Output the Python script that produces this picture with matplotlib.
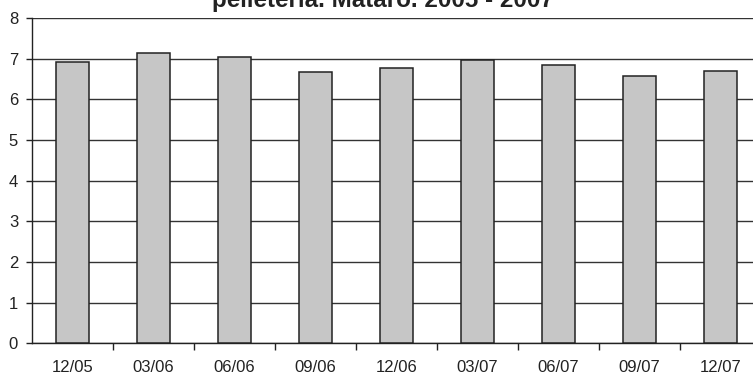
import matplotlib
matplotlib.use("Agg")
import matplotlib.pyplot as plt
from matplotlib.ticker import FixedLocator

periods = ["12/05", "03/06", "06/06", "09/06", "12/06", "03/07", "06/07", "09/07", "12/07"]
values = [6.93, 7.15, 7.04, 6.66, 6.77, 6.96, 6.84, 6.58, 6.70]
y_ticks = [0, 1, 2, 3, 4, 5, 6, 7, 8]
title = "pelletería. Mataró. 2005 - 2007"

plt.rcParams["font.family"] = ["Liberation Sans", "DejaVu Sans"]

W, H = 753, 375
fig = plt.figure(figsize=(W / 100, H / 100), dpi=100)
left, right, top, bottom = 32, 761, 18, 343.3
ax = fig.add_axes([left / W, (H - bottom) / H, (right - left) / W, (bottom - top) / H])

x = list(range(len(periods)))
ax.bar(x, values, width=0.4, color="#c6c6c6", edgecolor="#222222", linewidth=1.1, zorder=3)

ax.set_xlim(-0.5, len(periods) - 0.5)
ax.set_ylim(0, 8)
ax.set_yticks(y_ticks)
ax.set_yticklabels([str(v) for v in y_ticks], fontsize=12, color="#222222")
ax.set_xticks(x)
ax.set_xticklabels(periods, fontsize=12, color="#222222")
ax.xaxis.set_minor_locator(FixedLocator([i + 0.5 for i in range(len(periods))]))

ax.tick_params(axis="x", which="major", length=0, pad=12)
ax.tick_params(axis="x", which="minor", length=5, width=1, color="#222222", direction="out")
ax.tick_params(axis="y", length=4, width=1, color="#222222", pad=6)

ax.grid(axis="y", color="#333333", linewidth=1, zorder=0)
ax.set_axisbelow(True)
for s in ("top", "right"):
    ax.spines[s].set_visible(False)
ax.spines["left"].set_color("#222222")
ax.spines["bottom"].set_color("#222222")
ax.spines["left"].set_linewidth(1)
ax.spines["bottom"].set_linewidth(1)

fig.text(383 / W, 1 - 7.5 / H, title, ha="center", va="baseline",
         fontsize=17.4, fontweight="bold", color="#222222")

fig.savefig("out.png", dpi=100)
